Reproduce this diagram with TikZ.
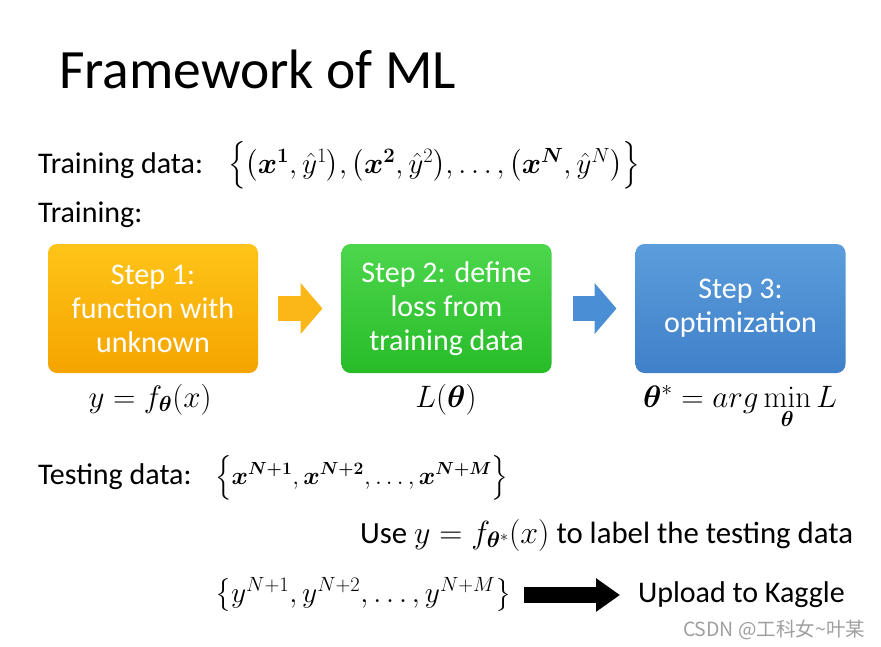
\RequirePackage{fix-cm}
\documentclass[tikz,border=0pt]{standalone}
\usepackage{amsmath,bm}
\usepackage[no-math]{fontspec}
\setmainfont{Carlito}
\newfontfamily\cjk{Noto Sans CJK SC}
\usetikzlibrary{arrows.meta}
\definecolor{orangetop}{HTML}{FFC419}
\definecolor{orangebot}{HTML}{F5A400}
\definecolor{greentop}{HTML}{4CD64C}
\definecolor{greenbot}{HTML}{28BC28}
\definecolor{bluetop}{HTML}{5C9DDC}
\definecolor{bluebot}{HTML}{3F80C9}
\definecolor{orangearrow}{HTML}{FBB617}
\definecolor{bluearrow}{HTML}{4A8FD6}
\newcommand{\fsz}[1]{\fontsize{#1}{#1}\selectfont}
\begin{document}
\begin{tikzpicture}[x=1pt,y=-1pt,
    every node/.style={inner sep=0pt,outer sep=0pt},
    body/.style={font=\fontsize{30}{34}\selectfont},
    formula/.style={font=\fontsize{31}{34}\selectfont},
    stepbox/.style={rounded corners=9pt,minimum width=210pt,minimum height=129pt,
      text=white,align=center,font=\fontsize{30}{34}\selectfont},
    blockarrow/.style={line width=25pt,-{Triangle[width=50pt,length=22pt]}}]
  \fill[white] (0,0) rectangle (881,646);
  \useasboundingbox (0,0) rectangle (881,646);
  % title and training data
  \node[anchor=base west,font=\fontsize{55.5}{60}\selectfont] (title) at (59,88) {Framework of ML};
  \node[body,anchor=base west] (trainlbl) at (38,173) {Training data:};
  \node[anchor=base west,font=\fsz{27.5}] (trainset) at (228,173)
    {\scalebox{1.065}{$\Big\{\big(\bm{x}^{\bm{1}},\hat{y}^1\big),\big(\bm{x}^{\bm{2}},\hat{y}^2\big),\ldots,\big(\bm{x}^{\bm{N}},\hat{y}^N\big)\Big\}$}};
  \node[body,anchor=base west] (train) at (38,222) {Training:};
  % the three steps
  \node[stepbox,top color=orangetop,bottom color=orangebot] (step1) at (153,308.5)
    {Step 1:\\function with\\unknown};
  \node[stepbox,top color=greentop,bottom color=greenbot] (step2) at (446.5,308.5)
    {Step 2: define\\loss from\\training data};
  \node[stepbox,top color=bluetop,bottom color=bluebot] (step3) at (740.5,308.5)
    {Step 3:\\optimization};
  \draw[blockarrow,orangearrow,shorten <=20pt,shorten >=19pt] (step1) -- (step2);
  \draw[blockarrow,bluearrow,shorten <=21pt,shorten >=19pt] (step2) -- (step3);
  \node[formula,anchor=base] (model) at (150,407) {$y=f_{\bm{\theta}}(x)$};
  \node[formula,anchor=base] (loss) at (446,407) {$L(\bm{\theta})$};
  \node[formula,anchor=base] (optim) at (740,407) {$\bm{\theta}^{*}=arg\min\limits_{\bm{\theta}}L$};
  % testing
  \node[body,anchor=base west] (testlbl) at (38,484) {Testing data:};
  \node[anchor=base west,font=\fsz{25}] (testset) at (215,484)
    {$\Big\{\bm{x}^{\bm{N+1}},\bm{x}^{\bm{N+2}},\ldots,\bm{x}^{\bm{N+M}}\Big\}$};
  \node[anchor=base west,font=\fsz{30.8}] (use) at (360,543)
    {Use {\fsz{32}$y=f_{\bm{\theta}^*}(x)$} to label the testing data};
  \node[anchor=west,font=\fsz{26.5}] (yset) at (215,595)
    {\scalebox{1.11}{$\big\{y^{N+1},y^{N+2},\ldots,y^{N+M}\big\}$}};
  \node[body,anchor=west] (kaggle) at (638,595) {Upload to Kaggle};
  \draw[line width=16pt,-{Triangle[width=32pt,length=24pt]},shorten <=13pt,shorten >=18pt]
    (yset) -- (kaggle);
  \node[anchor=base west,text=gray!75,font=\cjk\fontsize{19.5}{22}\selectfont] (mark) at (683,636)
    {CSDN @工科女\textasciitilde 叶某};
\end{tikzpicture}
\end{document}
